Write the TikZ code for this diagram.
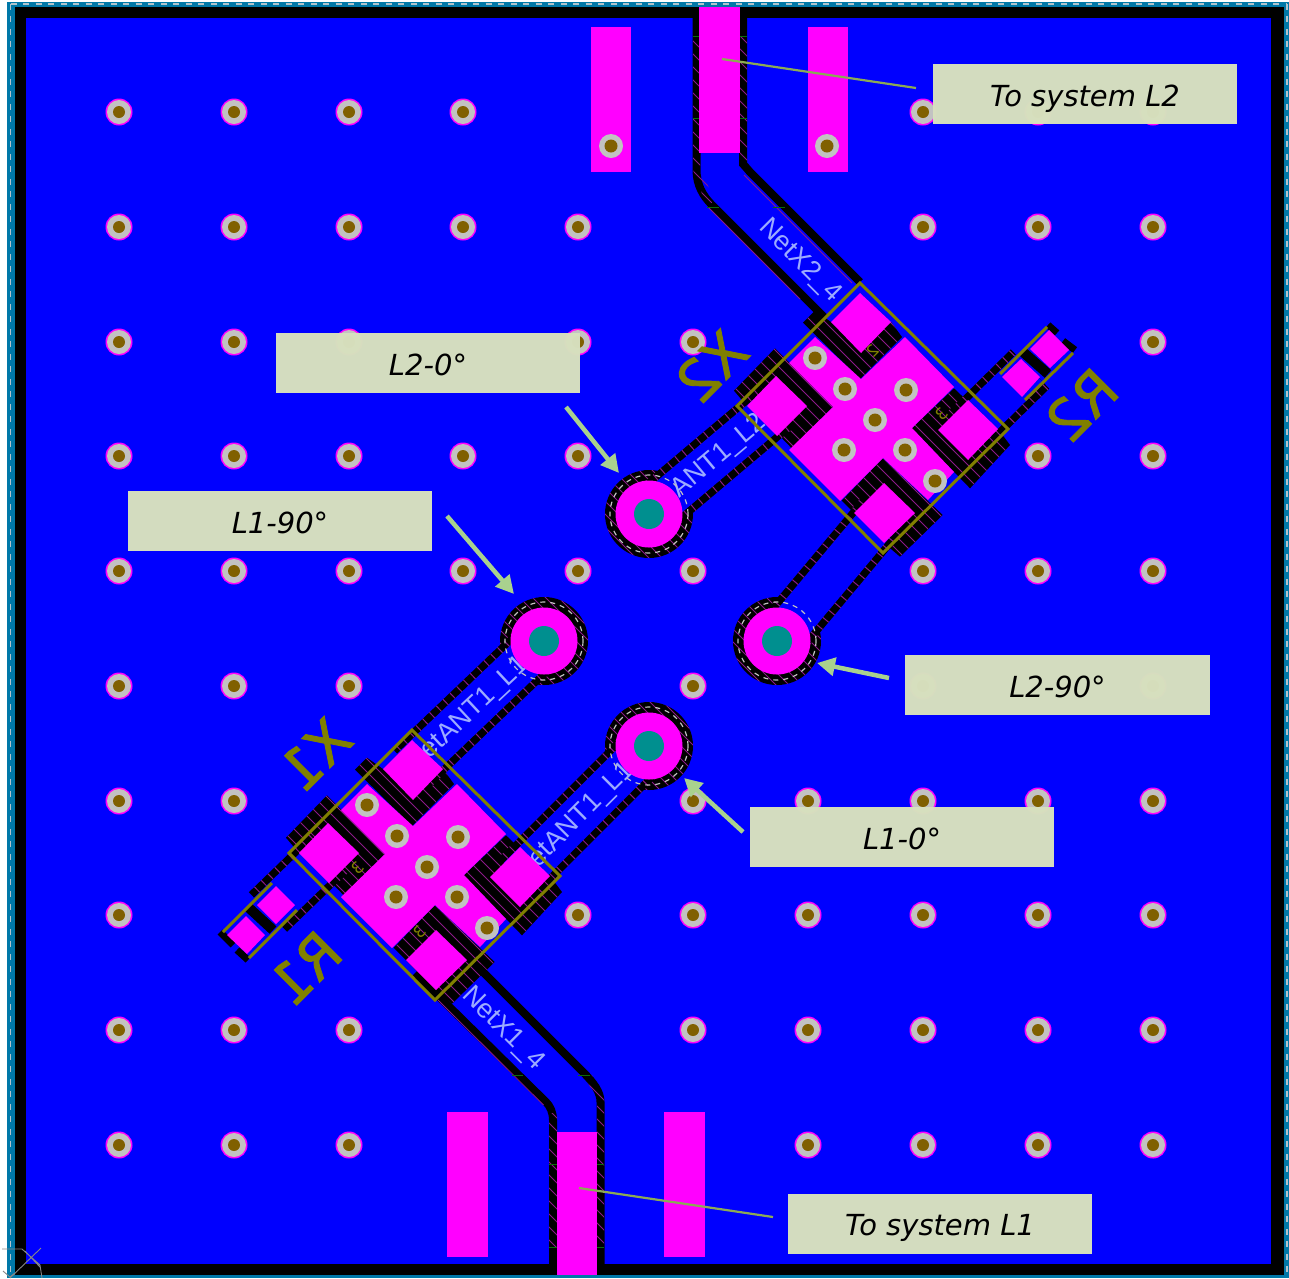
\documentclass[tikz,border=0pt]{standalone}
\usepackage{fontspec}
\setmainfont{DejaVu Sans}
\newfontfamily\netfont{Liberation Sans}
\newfontfamily\silkfont[FakeBold=1.6]{DejaVu Sans}
\usetikzlibrary{arrows.meta}
\definecolor{pcbblue}{HTML}{0000FF}
\definecolor{pcbpink}{HTML}{FF00FF}
\definecolor{pcbteal}{HTML}{0078A8}
\definecolor{pcbdash}{HTML}{B4C4CC}
\definecolor{pcbolive}{HTML}{808000}
\definecolor{viagray}{HTML}{C2C2C2}
\definecolor{viabrown}{HTML}{806000}
\definecolor{ringteal}{HTML}{008F8F}
\definecolor{hatchpurple}{HTML}{8B1A89}
\definecolor{netlabel}{HTML}{9CABFF}
\definecolor{lblfill}{HTML}{D7E0BE}
\definecolor{arrowgreen}{HTML}{A9D18E}
\definecolor{leadergreen}{HTML}{8CAA55}
\definecolor{tickgreen}{HTML}{0A6A0A}
\tikzset{
  hatchline/.style={draw=hatchpurple,line width=0.8pt},
  tb/.style={draw=black,line width=55pt},
  tt/.style={draw=hatchpurple,line width=55pt,dash pattern=on 1pt off 8.4pt},
  tc/.style={draw=pcbblue,line width=40pt},
  edgeblack/.style={draw=black,line width=8pt},
  padfill/.style={fill=pcbpink,draw=none},
  silk/.style={draw=pcbolive,line width=3pt},
  lbl/.style={fill=lblfill,fill opacity=0.985,text opacity=1,draw=none,inner sep=0pt,minimum width=304pt,minimum height=60pt,text height=30pt,text depth=6pt,font=\fontsize{29}{30}\selectfont\itshape,text=black},
  netl/.style={text=netlabel,inner sep=0pt,font=\netfont\fontsize{27}{28}\selectfont},
  silktext/.style={text=pcbolive,inner sep=0pt,font=\silkfont\fontsize{56}{58}\selectfont,xscale=-1,rotate=-45},
  pinmark/.style={text=pcbolive,inner sep=0pt,font=\fontsize{16}{16}\selectfont,xscale=-1,rotate=-45},
  callout/.style={draw=arrowgreen,line width=4.5pt,-{Triangle[length=18pt,width=18pt]}},
  leader/.style={draw=leadergreen,line width=2.2pt},
  greentick/.style={draw=tickgreen,line width=1pt},
}
\newcommand{\via}[2]{%
  \fill[pcbpink] (#1,#2) circle[radius=13.5];
  \fill[viagray] (#1,#2) circle[radius=12];
  \fill[viabrown] (#1,#2) circle[radius=6];}
\newcommand{\xvia}[2]{%
  \fill[viagray] (#1,#2) circle[radius=12];
  \fill[viabrown] (#1,#2) circle[radius=6.5];}
\newcommand{\viarow}[2]{\foreach \vx in {#2}{\via{\vx}{#1}}}
\def\xzones{
  (803,322.7) -- (815,310.7) -- (831,322) -- (891,322) -- (902,337) -- (860,379) -- cycle
  (734,390.7) -- (775,348.3) -- (833,407) -- (791.7,448.3) -- (777,433) -- (747,406) -- cycle
  (911.7,428.3) -- (954,388.3) -- (968,401.7) -- (998,429) -- (1010,445) -- (970,488.3) -- cycle
  (841.7,500.7) -- (882.7,458.3) -- (942.7,515) -- (900,556.7) -- (884,543) -- (854,513) -- cycle
}
\newcommand{\compzones}{%
  \fill[black] \xzones;
  \begin{scope}
    \clip \xzones;
    \foreach \hc in {-750,-737,...,-170}
      \draw[hatchline] (690,{690+\hc}) -- (1060,{1060+\hc});
  \end{scope}}
\newcommand{\comppads}{%
  \fill[padfill] (815,337) -- (861,379) -- (905,337) -- (954,387) -- (912,428) -- (954,472) -- (928,500) -- (883,458) -- (840,501) -- (789,450) -- (833,407) -- (789,363) -- cycle;
  \fill[padfill] (860,293) -- (891,322) -- (861,353) -- (831,322) -- cycle;
  \fill[padfill] (776,376) -- (807,406) -- (777,436) -- (747,406) -- cycle;
  \fill[padfill] (968,400) -- (998,429) -- (968,460) -- (938,430) -- cycle;
  \fill[padfill] (884,483) -- (915,513) -- (884,543) -- (854,513) -- cycle;
  \xvia{815}{358}\xvia{845}{389}\xvia{906}{390}\xvia{875}{420}\xvia{844}{450}\xvia{905}{450}\xvia{935}{481}
  \draw[silk] (860,283) -- (1008,429) -- (883,553) -- (737,406) -- cycle;}
\newcommand{\chan}[2]{%
  \draw[tb] (#1) -- (#2);
  \draw[tt] (#1) -- (#2);
  \draw[tc] (#1) -- (#2);}
\newcommand{\ring}[1]{%
  \draw[draw=viagray,line width=1.2pt,dash pattern=on 5pt off 5pt] (#1) circle[radius=39];
  \fill[pcbpink] (#1) circle[radius=33.5];
  \fill[ringteal] (#1) circle[radius=15];}
\begin{document}
\begin{tikzpicture}[x=1pt,y=-1pt]
\useasboundingbox (0,0) rectangle (1289,1278);
\clip (0,0) rectangle (1289,1278);
\fill[white] (0,0) rectangle (1289,1278);
% board frame
\fill[pcbteal] (7,2) rectangle (1289,1278);
\draw[pcbdash,line width=1.4pt,dash pattern=on 6pt off 6.5pt] (10.5,3.8) -- (1287,3.8);
\draw[pcbdash,line width=1.4pt,dash pattern=on 6pt off 6.5pt] (10.5,3.8) -- (10.5,1278);
\draw[pcbdash,line width=1.4pt,dash pattern=on 6pt off 6.5pt] (1287,3.8) -- (1287,1278);
\fill[black] (15,7) rectangle (1284,1275);
\fill[pcbblue] (26,18) rectangle (1271,1264);
% vias
\viarow{112}{119,234,349,463,923,1038,1153}
\viarow{227}{119,234,349,463,578,923,1038,1153}
\viarow{342}{119,234,349,578,693,1153}
\viarow{456}{119,234,349,463,578,1038,1153}
\viarow{571}{119,234,349,463,578,693,923,1038,1153}
\viarow{686}{119,234,349,693,923,1153}
\viarow{801}{119,234,693,808,923,1038,1153}
\viarow{915}{119,578,693,808,923,1038,1153}
\viarow{1030}{119,234,349,693,808,923,1038,1153}
\viarow{1145}{119,234,349,808,923,1038,1153}
% ground pads at the edges
\fill[padfill] (591,27) rectangle (631,172);
\fill[padfill] (808,27) rectangle (848,172);
\fill[padfill] (447,1112) rectangle (488,1257);
\fill[padfill] (664,1112) rectangle (705,1257);
\xvia{611}{146}\xvia{827}{146}
% named anchors
\coordinate (ringA) at (649,514);
\coordinate (ringB) at (544,641);
\coordinate (ringC) at (777,641);
\coordinate (ringD) at (649,746);
\coordinate (xtwoL) at (777,406);
\coordinate (xtwoB) at (884,513);
\coordinate (xtwoR) at (968,430);
\coordinate (rtwo) at (1030,369);
\coordinate (xoneT) at (411,768);
\coordinate (xoneR) at (518,877);
\coordinate (xoneL) at (328,854);
\coordinate (rone) at (268,912);
% rings, black with hatch
\def\ringzones{(ringA) circle[radius=44] (ringB) circle[radius=44] (ringC) circle[radius=44] (ringD) circle[radius=44]}
\fill[black] \ringzones;
\begin{scope}
  \clip \ringzones;
  \foreach \hc in {-260,-247,...,260}
    \draw[hatchline] (470,{470+\hc}) -- (840,{840+\hc});
\end{scope}
% X components, copper cut-outs
\compzones
\begin{scope}[shift={(-448,447)}]\compzones\end{scope}
% diagonal traces
\chan{ringA}{xtwoL}
\chan{ringC}{xtwoB}
\chan{xtwoR}{rtwo}
\chan{ringB}{xoneT}
\chan{ringD}{xoneR}
\chan{xoneL}{rone}
% system traces, top
\draw[edgeblack] (696.5,18) -- (696.5,170) .. controls (696.5,185) and (703,196) .. (712,205) -- (825,318);
\draw[edgeblack] (743,18) -- (743,164) -- (750,172) -- (860,282);
\draw[hatchline] (709,208) -- (800,299);
\draw[hatchline] (744,175) -- (852,283);
\begin{scope}
  \clip (693,36) rectangle (700,170) (740,36) rectangle (747,165) (693,170) -- (700,170) -- (715,200) -- (707,207) -- cycle;
  \foreach \hc in {-730,-717,...,-480}
    \draw[hatchline] (680,{680+\hc}) -- (760,{760+\hc});
\end{scope}
% system traces, bottom
\draw[edgeblack] (553,1264) -- (553,1120) .. controls (553,1112) and (550,1106) .. (546,1102) -- (415,973);
\draw[edgeblack] (600.5,1264) -- (600.5,1102) .. controls (600.5,1092) and (594,1083) .. (583,1072) -- (478,967);
\draw[hatchline] (543.5,1105) -- (438,1000);
\begin{scope}
  \clip (549,1113) rectangle (557,1247) (597,1100) rectangle (604,1247) (586,1079) -- (592,1075) -- (604,1100) -- (597,1100) -- cycle;
  \foreach \hc in {470,483,...,710}
    \draw[hatchline] (530,{530+\hc}) -- (620,{620+\hc});
\end{scope}
\draw[greentick] (693,36) -- (700,36) (740,36) -- (747,36) (693,118) -- (700,118) (740,118) -- (747,118) (707,207) -- (719,207) (773,207) -- (785,207);
\draw[greentick] (512,1075) -- (523,1075) (578,1075) -- (590,1075) (549,1164) -- (557,1164) (597,1164) -- (604,1164) (549,1247) -- (557,1247) (597,1247) -- (604,1247);
% net names
\node[netl,rotate=40] (netAntA) at (703,470) {NetANT1\_L2};
\node[netl,rotate=43] (netAntB) at (468,715) {NetANT1\_L1};
\node[netl,rotate=45] (netAntC) at (575,822) {NetANT1\_L1};
\node[netl,rotate=-45] (netXtwo) at (800,261) {NetX2\_4};
\node[netl,rotate=-45] (netXone) at (503,1029) {NetX1\_4};
% centre pads of system traces
\fill[padfill] (699,7) rectangle (740,153);
\fill[padfill] (557,1132) rectangle (597,1275);
% rings on top
\ring{ringA}\ring{ringB}\ring{ringC}\ring{ringD}
% X components
\comppads
\begin{scope}[shift={(-448,447)}]\comppads\end{scope}
\node[pinmark] (pinXa) at (873,351) {2};
\node[pinmark] (pinXb) at (942,414) {3};
\node[pinmark] (pinXc) at (358,868) {3};
\node[pinmark] (pinXd) at (420,932) {3};
% R2
\draw[draw=black,line width=10pt] (1023,352) -- (1048,374);
\draw[draw=black,line width=7pt] (1048,325) -- (1057,333) (1063,341) -- (1075,350);
\fill[padfill] (1049,330) -- (1069,350) -- (1050,368) -- (1030,349) -- cycle;
\fill[padfill] (1021,359) -- (1040,377) -- (1022,397) -- (1002,377) -- cycle;
\draw[silk] (1000,374) -- (1047,327) (1025,400) -- (1073,353);
% R1
\draw[draw=black,line width=10pt] (248,907) -- (273,930);
\draw[draw=black,line width=7pt] (220,932) -- (233,945) (237,950) -- (248,960);
\fill[padfill] (276,886) -- (295,905) -- (276,924) -- (257,905) -- cycle;
\fill[padfill] (246,916) -- (265,935) -- (247,954) -- (227,935) -- cycle;
\draw[silk] (223,932) -- (272,883) (249,958) -- (297,910);
% silkscreen names
\node[silktext] (silkXtwo) at (711,366) {X2};
\node[silktext] (silkRtwo) at (1081,405) {R2};
\node[silktext] (silkXone) at (315,754) {X1};
\node[silktext] (silkRone) at (305,968) {R1};
% origin mark
\draw[draw=viagray!70!black,line width=0.9pt] (2,1249) -- (22,1249) -- (40,1265) -- (42,1278) (41,1248) -- (10,1278) (25,1251) -- (40,1267) (3,1271) -- (10,1277) -- (15,1273);
% labels
\node[lbl] (lblSysTwo) at (1085,94) {To system L2};
\node[lbl] (lblSysOne) at (940,1223.5) {To system L1};
\node[lbl] (lblLtwoZero) at (428,363) {L2-0°};
\node[lbl] (lblLoneNinety) at (280,521) {L1-90°};
\node[lbl,minimum width=305pt] (lblLtwoNinety) at (1057.5,685) {L2-90°};
\node[lbl] (lblLoneZero) at (902,837) {L1-0°};
% callouts
\coordinate (aAs) at (566,407); \coordinate (aAe) at (619,473);
\coordinate (aBs) at (447,516); \coordinate (aBe) at (514,594);
\coordinate (aCs) at (889,678); \coordinate (aCe) at (817,663);
\coordinate (aDs) at (743,832); \coordinate (aDe) at (684,778);
\draw[callout] (aAs) -- (aAe);
\draw[callout] (aBs) -- (aBe);
\draw[callout] (aCs) -- (aCe);
\draw[callout] (aDs) -- (aDe);
\coordinate (leadTwoA) at (722,59); \coordinate (leadTwoB) at (916,88);
\coordinate (leadOneA) at (579,1188); \coordinate (leadOneB) at (773,1217);
\draw[leader] (leadTwoA) -- (leadTwoB);
\draw[leader] (leadOneA) -- (leadOneB);
\end{tikzpicture}
\end{document}
